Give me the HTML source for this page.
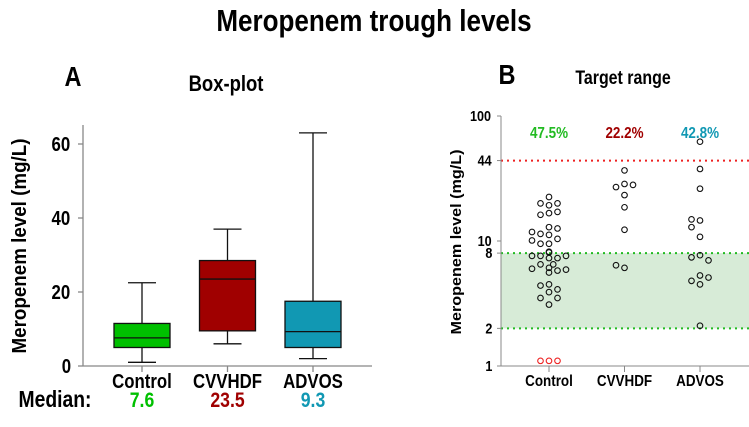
<!DOCTYPE html>
<html><head><meta charset="utf-8"><style>
html,body{margin:0;padding:0;background:#fff;}
svg{display:block;font-family:"Liberation Sans Narrow","Liberation Sans",sans-serif;font-weight:bold;}
svg text:not(.r){transform-box:fill-box;transform-origin:center;transform:scaleX(0.84);}
</style></head><body>
<svg id="c" width="749" height="427" viewBox="0 0 749 427">
<text x="374" y="31" font-size="31" text-anchor="middle">Meropenem trough levels</text>
<text x="73" y="86" font-size="28" text-anchor="middle">A</text>
<text x="226" y="91" font-size="22" text-anchor="middle">Box-plot</text>
<text x="507" y="84" font-size="28" text-anchor="middle">B</text>
<text x="623" y="84" font-size="19" text-anchor="middle">Target range</text>
<text class="r" x="26" y="246" font-size="20" text-anchor="middle" textLength="215" lengthAdjust="spacingAndGlyphs" transform="rotate(-90 26 246)">Meropenem level (mg/L)</text>
<text class="r" x="461" y="242" font-size="15" text-anchor="middle" textLength="185" lengthAdjust="spacingAndGlyphs" transform="rotate(-90 461 242)">Meropenem level (mg/L)</text>
<text x="55" y="407" font-size="23" text-anchor="middle">Median:</text>
<g id="left"></g><g id="right"></g>
</svg>
<script>
const categories=["Control","CVVHDF","ADVOS"];
const colors=["#00c000","#a00000","#1198b3"];
const mins=[1,6,2];
const q1s=[5,9.5,5];
const medians=[7.6,23.5,9.3];
const q3s=[11.5,28.5,17.5];
const maxs=[22.5,37,63];
const medianLabels=["7.6","23.5","9.3"];
const leftTicks=[0,20,40,60];
const controlVals=[22.5,20.0,19.3,20.0,16.7,16.2,17.1,12.9,11.4,12.6,11.8,11.2,10.4,10.1,9.5,9.5,8.2,7.6,7.3,7.6,7.6,8.1,7.3,6.5,6.5,6.0,5.6,5.9,6.1,5.8,4.5,4.4,4.1,3.9,3.5,3.5,3.1];
const controlBelow=[1.1,1.1,1.1];
const cvvhdfVals=[36.7,28.6,27.0,28.1,23.3,18.6,12.3,6.1,6.4];
const advosVals=[62.3,37.7,26.2,14.6,14.9,12.9,10.8,7.7,7.4,7.0,5.3,4.8,5.1,4.5,2.1];
const percents=["47.5%","22.2%","42.8%"];
const rightTicks=[1,2,8,10,44,100];
const targetLow=2, targetHigh=8, toxic=44;

const NS="http://www.w3.org/2000/svg";
function mk(p,t,a){const e=document.createElementNS(NS,t);for(const k in a)e.setAttribute(k,a[k]);p.appendChild(e);return e;}
const L=document.getElementById('left');
const lx=i=>142+i*85.5;
const ly=v=>366-v*3.7;
let e=mk(L,'line',{x1:83,y1:125,x2:83,y2:366,stroke:'#888','stroke-width':1.3});

e=mk(L,'line',{x1:83,y1:366,x2:372,y2:366,stroke:'#888','stroke-width':1.3});

leftTicks.forEach(t=>{
 mk(L,'line',{x1:78,y1:ly(t),x2:83,y2:ly(t),stroke:'#888','stroke-width':1.3});
 e=mk(L,'text',{x:72,y:ly(t)+7,'font-size':20,'text-anchor':'end'});e.textContent=t;
 
});
categories.forEach((c,i)=>{
 const x=lx(i);
 mk(L,'line',{x1:x,y1:366,x2:x,y2:372,stroke:'#888','stroke-width':1.3});
 e=mk(L,'text',{x:x,y:388,'font-size':20,'text-anchor':'middle'});e.textContent=c;
 
 const g=mk(L,'g',{stroke:'#111','stroke-width':1.3});
 
 mk(g,'line',{x1:x,y1:ly(maxs[i]),x2:x,y2:ly(q3s[i])});
 mk(g,'line',{x1:x,y1:ly(mins[i]),x2:x,y2:ly(q1s[i])});
 mk(g,'line',{x1:x-14,y1:ly(maxs[i]),x2:x+14,y2:ly(maxs[i])});
 mk(g,'line',{x1:x-14,y1:ly(mins[i]),x2:x+14,y2:ly(mins[i])});
 mk(g,'rect',{x:x-28,y:ly(q3s[i]),width:56,height:ly(q1s[i])-ly(q3s[i]),fill:colors[i]});
 mk(g,'line',{x1:x-28,y1:ly(medians[i]),x2:x+28,y2:ly(medians[i])});
 e=mk(L,'text',{x:x,y:407,'font-size':21,'text-anchor':'middle',fill:colors[i]});e.textContent=medianLabels[i];
 
});
const R=document.getElementById('right');
const rx=i=>549+i*75.5;
const ry=v=>366-Math.log10(v)*125;
e=mk(R,'rect',{x:501,y:ry(targetHigh),width:248,height:ry(targetLow)-ry(targetHigh),fill:'#d7ebd7'});

[[targetHigh,'#22bb22','upper-target-line'],[targetLow,'#22bb22','lower-target-line'],[toxic,'#ee2222','toxic-threshold-line']].forEach(d=>{
 e=mk(R,'line',{x1:501,y1:ry(d[0]),x2:749,y2:ry(d[0]),stroke:d[1],'stroke-width':2,'stroke-dasharray':'2 4'});
 
});
e=mk(R,'line',{x1:501,y1:116,x2:501,y2:366,stroke:'#888','stroke-width':1});

e=mk(R,'line',{x1:501,y1:366,x2:749,y2:366,stroke:'#888','stroke-width':1});

rightTicks.forEach(t=>{
 mk(R,'line',{x1:497,y1:ry(t),x2:501,y2:ry(t),stroke:'#888','stroke-width':1});
 e=mk(R,'text',{x:493,y:ry(t)+5,'font-size':15,'text-anchor':'end'});e.textContent=t;
 
});
const groups=[controlVals,cvvhdfVals,advosVals];
categories.forEach((c,i)=>{
 const x=rx(i);
 mk(R,'line',{x1:x,y1:366,x2:x,y2:372,stroke:'#888','stroke-width':1});
 e=mk(R,'text',{x:x,y:386,'font-size':16,'text-anchor':'middle'});e.textContent=c;
 
 e=mk(R,'text',{x:x,y:138,'font-size':16,'text-anchor':'middle',fill:colors[i]==='#00c000'?'#22bb22':colors[i]});e.textContent=percents[i];
 
 const placed=[];
 const slots=[0,-1,1,-0.5,0.5,-2,2,-1.5,1.5,-2.5,2.5];
 groups[i].forEach(v=>{
  const y=ry(v);let dx=0;
  for(const s of slots){const px=s*8.5;if(placed.every(p=>Math.hypot(p[0]-px,p[1]-y)>=7.5)){dx=px;break;}}
  placed.push([dx,y]);
  const d=mk(R,'circle',{cx:x+dx,cy:y,r:2.8,fill:'none',stroke:'#111','stroke-width':1.1});
  
  
 });
});
controlBelow.forEach((v,k)=>{
 const d=mk(R,'circle',{cx:rx(0)+(k-1)*8.5,cy:ry(v),r:2.8,fill:'none',stroke:'#ee2222','stroke-width':1.1});
 
 
});
</script>
</body></html>
